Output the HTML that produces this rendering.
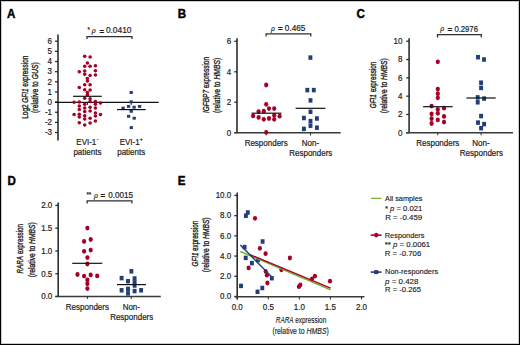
<!DOCTYPE html>
<html><head><meta charset="utf-8"><style>
html,body{margin:0;padding:0;background:#fff;}
#f{position:absolute;left:0;top:0;width:520px;height:345px;overflow:hidden;background:#fff;}
svg{position:absolute;left:0;top:0;font-family:"Liberation Sans", sans-serif;}
text{stroke:#1a1a1a;stroke-width:0.2px;}
text.b{stroke:#000;stroke-width:0.45px;}
text.r{stroke-width:0.35px;}
text.eq{stroke-width:0.45px;}
text.l{stroke-width:0.14px;}
text.x{stroke-width:0.15px;}
</style></head><body><div id="f">
<svg width="520" height="345" viewBox="0 0 520 345">
<rect x="0.5" y="0.5" width="519" height="344" fill="#fff" stroke="#000" stroke-width="1"/>
<rect x="1.5" y="1.5" width="517" height="342" fill="none" stroke="#000" stroke-opacity="0.2" stroke-width="1"/>
<text transform="translate(7.1,17.8) scale(0.9259,1)" font-size="12.53" font-weight="bold" fill="#000" class="b">A</text>
<line x1="58" y1="34.4" x2="58" y2="140.5" stroke="#2e2e2e" stroke-width="1.6"/>
<line x1="55" y1="132.55" x2="58" y2="132.55" stroke="#2e2e2e" stroke-width="1.3"/>
<text transform="translate(52,135.35) scale(0.8929,1)" font-size="8.96" text-anchor="end" fill="#1a1a1a">-3</text>
<line x1="55" y1="122.4" x2="58" y2="122.4" stroke="#2e2e2e" stroke-width="1.3"/>
<text transform="translate(52,125.2) scale(0.8929,1)" font-size="8.96" text-anchor="end" fill="#1a1a1a">-2</text>
<line x1="55" y1="112.25" x2="58" y2="112.25" stroke="#2e2e2e" stroke-width="1.3"/>
<text transform="translate(52,115.05) scale(0.8929,1)" font-size="8.96" text-anchor="end" fill="#1a1a1a">-1</text>
<line x1="55" y1="102.1" x2="58" y2="102.1" stroke="#2e2e2e" stroke-width="1.3"/>
<text transform="translate(52,104.9) scale(0.8929,1)" font-size="8.96" text-anchor="end" fill="#1a1a1a">0</text>
<line x1="55" y1="91.95" x2="58" y2="91.95" stroke="#2e2e2e" stroke-width="1.3"/>
<text transform="translate(52,94.75) scale(0.8929,1)" font-size="8.96" text-anchor="end" fill="#1a1a1a">1</text>
<line x1="55" y1="81.8" x2="58" y2="81.8" stroke="#2e2e2e" stroke-width="1.3"/>
<text transform="translate(52,84.6) scale(0.8929,1)" font-size="8.96" text-anchor="end" fill="#1a1a1a">2</text>
<line x1="55" y1="71.65" x2="58" y2="71.65" stroke="#2e2e2e" stroke-width="1.3"/>
<text transform="translate(52,74.45) scale(0.8929,1)" font-size="8.96" text-anchor="end" fill="#1a1a1a">3</text>
<line x1="55" y1="61.5" x2="58" y2="61.5" stroke="#2e2e2e" stroke-width="1.3"/>
<text transform="translate(52,64.3) scale(0.8929,1)" font-size="8.96" text-anchor="end" fill="#1a1a1a">4</text>
<line x1="55" y1="51.35" x2="58" y2="51.35" stroke="#2e2e2e" stroke-width="1.3"/>
<text transform="translate(52,54.15) scale(0.8929,1)" font-size="8.96" text-anchor="end" fill="#1a1a1a">5</text>
<line x1="55" y1="41.2" x2="58" y2="41.2" stroke="#2e2e2e" stroke-width="1.3"/>
<text transform="translate(52,44.0) scale(0.8929,1)" font-size="8.96" text-anchor="end" fill="#1a1a1a">6</text>
<line x1="55" y1="102.3" x2="158.7" y2="102.3" stroke="#111" stroke-width="1.2"/>
<line x1="87.4" y1="102.3" x2="87.4" y2="104.9" stroke="#111" stroke-width="1"/>
<line x1="131.2" y1="102.3" x2="131.2" y2="104.9" stroke="#111" stroke-width="1"/>
<ellipse cx="74.1" cy="102.3" rx="1.8" ry="1.75" fill="#a60024"/>
<ellipse cx="74.1" cy="114.6" rx="1.8" ry="1.75" fill="#a60024"/>
<ellipse cx="79.3" cy="71.8" rx="1.8" ry="1.75" fill="#a60024"/>
<ellipse cx="79.3" cy="87.6" rx="1.8" ry="1.75" fill="#a60024"/>
<ellipse cx="79.3" cy="102.1" rx="1.8" ry="1.75" fill="#a60024"/>
<ellipse cx="79.3" cy="106.1" rx="1.8" ry="1.75" fill="#a60024"/>
<ellipse cx="79.3" cy="109.6" rx="1.8" ry="1.75" fill="#a60024"/>
<ellipse cx="79.3" cy="114.3" rx="1.8" ry="1.75" fill="#a60024"/>
<ellipse cx="79.3" cy="117.0" rx="1.8" ry="1.75" fill="#a60024"/>
<ellipse cx="79.3" cy="122.8" rx="1.8" ry="1.75" fill="#a60024"/>
<ellipse cx="84.7" cy="56.3" rx="1.8" ry="1.75" fill="#a60024"/>
<ellipse cx="84.7" cy="66.2" rx="1.8" ry="1.75" fill="#a60024"/>
<ellipse cx="84.7" cy="71.1" rx="1.8" ry="1.75" fill="#a60024"/>
<ellipse cx="84.7" cy="74.3" rx="1.8" ry="1.75" fill="#a60024"/>
<ellipse cx="84.7" cy="84.7" rx="1.8" ry="1.75" fill="#a60024"/>
<ellipse cx="84.7" cy="89.7" rx="1.8" ry="1.75" fill="#a60024"/>
<ellipse cx="84.7" cy="98.3" rx="1.8" ry="1.75" fill="#a60024"/>
<ellipse cx="84.7" cy="104.3" rx="1.8" ry="1.75" fill="#a60024"/>
<ellipse cx="84.7" cy="108.0" rx="1.8" ry="1.75" fill="#a60024"/>
<ellipse cx="84.7" cy="111.5" rx="1.8" ry="1.75" fill="#a60024"/>
<ellipse cx="84.7" cy="115.7" rx="1.8" ry="1.75" fill="#a60024"/>
<ellipse cx="84.7" cy="119.0" rx="1.8" ry="1.75" fill="#a60024"/>
<ellipse cx="84.7" cy="125.1" rx="1.8" ry="1.75" fill="#a60024"/>
<ellipse cx="87.4" cy="63.0" rx="1.8" ry="1.75" fill="#a60024"/>
<ellipse cx="87.4" cy="78.4" rx="1.8" ry="1.75" fill="#a60024"/>
<ellipse cx="87.4" cy="81.0" rx="1.8" ry="1.75" fill="#a60024"/>
<ellipse cx="87.4" cy="92.4" rx="1.8" ry="1.75" fill="#a60024"/>
<ellipse cx="87.4" cy="94.7" rx="1.8" ry="1.75" fill="#a60024"/>
<ellipse cx="90.1" cy="56.9" rx="1.8" ry="1.75" fill="#a60024"/>
<ellipse cx="90.1" cy="66.2" rx="1.8" ry="1.75" fill="#a60024"/>
<ellipse cx="90.1" cy="75.4" rx="1.8" ry="1.75" fill="#a60024"/>
<ellipse cx="90.1" cy="84.7" rx="1.8" ry="1.75" fill="#a60024"/>
<ellipse cx="90.1" cy="89.9" rx="1.8" ry="1.75" fill="#a60024"/>
<ellipse cx="90.1" cy="98.8" rx="1.8" ry="1.75" fill="#a60024"/>
<ellipse cx="90.1" cy="101.5" rx="1.8" ry="1.75" fill="#a60024"/>
<ellipse cx="90.1" cy="107.3" rx="1.8" ry="1.75" fill="#a60024"/>
<ellipse cx="90.1" cy="111.1" rx="1.8" ry="1.75" fill="#a60024"/>
<ellipse cx="90.1" cy="118.2" rx="1.8" ry="1.75" fill="#a60024"/>
<ellipse cx="90.1" cy="123.1" rx="1.8" ry="1.75" fill="#a60024"/>
<ellipse cx="95.4" cy="65.7" rx="1.8" ry="1.75" fill="#a60024"/>
<ellipse cx="95.4" cy="70.8" rx="1.8" ry="1.75" fill="#a60024"/>
<ellipse cx="95.4" cy="74.9" rx="1.8" ry="1.75" fill="#a60024"/>
<ellipse cx="95.4" cy="101.5" rx="1.8" ry="1.75" fill="#a60024"/>
<ellipse cx="95.4" cy="104.3" rx="1.8" ry="1.75" fill="#a60024"/>
<ellipse cx="95.4" cy="108.0" rx="1.8" ry="1.75" fill="#a60024"/>
<ellipse cx="95.4" cy="112.9" rx="1.8" ry="1.75" fill="#a60024"/>
<ellipse cx="95.4" cy="116.0" rx="1.8" ry="1.75" fill="#a60024"/>
<ellipse cx="95.4" cy="121.0" rx="1.8" ry="1.75" fill="#a60024"/>
<ellipse cx="100.5" cy="103.1" rx="1.8" ry="1.75" fill="#a60024"/>
<ellipse cx="100.5" cy="114.4" rx="1.8" ry="1.75" fill="#a60024"/>
<line x1="73" y1="96.3" x2="101.8" y2="96.3" stroke="#111" stroke-width="1.2"/>
<rect x="129.55" y="91.05" width="3.3" height="2.9" fill="#213e7a"/>
<rect x="129.55" y="100.35" width="3.3" height="2.9" fill="#213e7a"/>
<rect x="121.45" y="106.65" width="3.3" height="2.9" fill="#213e7a"/>
<rect x="126.95" y="104.95" width="3.3" height="2.9" fill="#213e7a"/>
<rect x="132.45" y="105.75" width="3.3" height="2.9" fill="#213e7a"/>
<rect x="137.95" y="104.95" width="3.3" height="2.9" fill="#213e7a"/>
<rect x="129.55" y="109.85" width="3.3" height="2.9" fill="#213e7a"/>
<rect x="126.95" y="114.85" width="3.3" height="2.9" fill="#213e7a"/>
<rect x="132.55" y="116.75" width="3.3" height="2.9" fill="#213e7a"/>
<rect x="129.65" y="126.15" width="3.3" height="2.9" fill="#213e7a"/>
<line x1="117" y1="109.6" x2="145.7" y2="109.6" stroke="#111" stroke-width="1.2"/>
<text transform="translate(87.6,31.9) scale(0.8929,1)" font-size="6.94" fill="#1a1a1a">*</text>
<text transform="translate(91.7,33.1) scale(0.8929,1)" font-size="7.62" fill="#1a1a1a"><tspan font-style="italic">&#961;</tspan></text>
<text transform="translate(99.5,33.6) scale(0.8929,1)" font-size="8.96" fill="#1a1a1a" class="eq">=</text>
<text transform="translate(105.9,33.3) scale(0.8929,1)" font-size="8.96" textLength="28.56" lengthAdjust="spacingAndGlyphs" fill="#1a1a1a">0.0410</text>
<path d="M87 39V36.5H132V39" fill="none" stroke="#2e2e2e" stroke-width="1.25"/>
<text class="r" transform="translate(27.7,118.7) rotate(-90)" font-size="9.6" textLength="63.0" lengthAdjust="spacingAndGlyphs" fill="#1a1a1a">Log2 <tspan font-style="italic">GFI1</tspan> expression</text>
<text class="r" transform="translate(38.0,112.9) rotate(-90)" font-size="9.6" textLength="50.7" lengthAdjust="spacingAndGlyphs" fill="#1a1a1a">(relative to <tspan font-style="italic">GUS</tspan>)</text>
<text transform="translate(87.4,144.5) scale(0.8929,1)" font-size="8.96" text-anchor="middle" fill="#1a1a1a">EVI-1<tspan font-size="5" dx="0.8" dy="-3.5">-</tspan></text>
<text transform="translate(87.4,154.7) scale(0.8929,1)" font-size="8.96" text-anchor="middle" fill="#1a1a1a">patients</text>
<text transform="translate(131.2,144.5) scale(0.8929,1)" font-size="8.96" text-anchor="middle" fill="#1a1a1a">EVI-1<tspan font-size="5" dx="0.5" dy="-3.2">+</tspan></text>
<text transform="translate(131.2,154.7) scale(0.8929,1)" font-size="8.96" text-anchor="middle" fill="#1a1a1a">patients</text>
<text transform="translate(177.8,17.7) scale(0.9259,1)" font-size="12.53" font-weight="bold" fill="#000" class="b">B</text>
<line x1="237" y1="38.3" x2="237" y2="132.7" stroke="#2e2e2e" stroke-width="1.6"/>
<line x1="234.3" y1="132.7" x2="237" y2="132.7" stroke="#2e2e2e" stroke-width="1.3"/>
<text transform="translate(231.2,135.5) scale(0.8929,1)" font-size="8.96" text-anchor="end" fill="#1a1a1a">0</text>
<line x1="234.3" y1="102.24" x2="237" y2="102.24" stroke="#2e2e2e" stroke-width="1.3"/>
<text transform="translate(231.2,105.04) scale(0.8929,1)" font-size="8.96" text-anchor="end" fill="#1a1a1a">2</text>
<line x1="234.3" y1="71.78" x2="237" y2="71.78" stroke="#2e2e2e" stroke-width="1.3"/>
<text transform="translate(231.2,74.58) scale(0.8929,1)" font-size="8.96" text-anchor="end" fill="#1a1a1a">4</text>
<line x1="234.3" y1="41.32" x2="237" y2="41.32" stroke="#2e2e2e" stroke-width="1.3"/>
<text transform="translate(231.2,44.12) scale(0.8929,1)" font-size="8.96" text-anchor="end" fill="#1a1a1a">6</text>
<line x1="234.3" y1="132.7" x2="340.7" y2="132.7" stroke="#3a3a3a" stroke-width="1.5"/>
<line x1="266.2" y1="132.7" x2="266.2" y2="135.4" stroke="#2e2e2e" stroke-width="1"/>
<line x1="310.5" y1="132.7" x2="310.5" y2="135.4" stroke="#2e2e2e" stroke-width="1"/>
<ellipse cx="266.2" cy="85.0" rx="2.1" ry="2.42" fill="#a60024"/>
<ellipse cx="266.2" cy="104.3" rx="2.1" ry="2.42" fill="#a60024"/>
<ellipse cx="269" cy="108.6" rx="2.1" ry="2.42" fill="#a60024"/>
<ellipse cx="274.2" cy="108.6" rx="2.1" ry="2.42" fill="#a60024"/>
<ellipse cx="258.6" cy="111.6" rx="2.1" ry="2.42" fill="#a60024"/>
<ellipse cx="263.8" cy="111.2" rx="2.1" ry="2.42" fill="#a60024"/>
<ellipse cx="253.1" cy="115.9" rx="2.1" ry="2.42" fill="#a60024"/>
<ellipse cx="258.6" cy="117.4" rx="2.1" ry="2.42" fill="#a60024"/>
<ellipse cx="263.8" cy="119.3" rx="2.1" ry="2.42" fill="#a60024"/>
<ellipse cx="269" cy="118.5" rx="2.1" ry="2.42" fill="#a60024"/>
<ellipse cx="274.2" cy="115.3" rx="2.1" ry="2.42" fill="#a60024"/>
<ellipse cx="274.2" cy="119.3" rx="2.1" ry="2.42" fill="#a60024"/>
<ellipse cx="279.6" cy="116.2" rx="2.1" ry="2.42" fill="#a60024"/>
<ellipse cx="266.2" cy="132.3" rx="2.1" ry="2.42" fill="#a60024"/>
<line x1="251.6" y1="113.2" x2="281.5" y2="113.2" stroke="#111" stroke-width="1.2"/>
<rect x="308.45" y="55.36" width="3.9" height="4.48" fill="#213e7a"/>
<rect x="305.35" y="87.86" width="3.9" height="4.48" fill="#213e7a"/>
<rect x="311.85" y="87.86" width="3.9" height="4.48" fill="#213e7a"/>
<rect x="308.55" y="98.16" width="3.9" height="4.48" fill="#213e7a"/>
<rect x="308.55" y="109.56" width="3.9" height="4.48" fill="#213e7a"/>
<rect x="301.95" y="115.76" width="3.9" height="4.48" fill="#213e7a"/>
<rect x="314.95" y="116.26" width="3.9" height="4.48" fill="#213e7a"/>
<rect x="308.55" y="118.86" width="3.9" height="4.48" fill="#213e7a"/>
<rect x="308.55" y="123.46" width="3.9" height="4.48" fill="#213e7a"/>
<rect x="301.95" y="126.66" width="3.9" height="4.48" fill="#213e7a"/>
<rect x="314.95" y="125.46" width="3.9" height="4.48" fill="#213e7a"/>
<line x1="295.6" y1="108.3" x2="325.4" y2="108.3" stroke="#111" stroke-width="1.2"/>
<text transform="translate(270.9,30.5) scale(0.8929,1)" font-size="7.62" fill="#1a1a1a"><tspan font-style="italic">&#961;</tspan></text>
<text transform="translate(278.1,31.0) scale(0.8929,1)" font-size="8.96" fill="#1a1a1a" class="eq">=</text>
<text transform="translate(284.8,30.7) scale(0.8929,1)" font-size="8.96" textLength="23.07" lengthAdjust="spacingAndGlyphs" fill="#1a1a1a">0.465</text>
<path d="M266.1 36.4V33.8H310.8V36.4" fill="none" stroke="#2e2e2e" stroke-width="1.25"/>
<text class="r" transform="translate(208.7,113) rotate(-90)" font-size="9.6" textLength="56" lengthAdjust="spacingAndGlyphs" fill="#1a1a1a"><tspan font-style="italic">IGFBP7</tspan> expression</text>
<text class="r" transform="translate(219.5,113) rotate(-90)" font-size="9.6" textLength="55.2" lengthAdjust="spacingAndGlyphs" fill="#1a1a1a">(relative to <tspan font-style="italic">HMBS</tspan>)</text>
<text transform="translate(266.2,145.8) scale(0.8929,1)" font-size="8.96" text-anchor="middle" fill="#1a1a1a">Responders</text>
<text transform="translate(310.5,145.8) scale(0.8929,1)" font-size="8.96" text-anchor="middle" fill="#1a1a1a">Non-</text>
<text transform="translate(310.8,156) scale(0.8929,1)" font-size="8.96" text-anchor="middle" fill="#1a1a1a">Responders</text>
<text transform="translate(356.4,17.7) scale(0.9259,1)" font-size="12.53" font-weight="bold" fill="#000" class="b">C</text>
<line x1="409.1" y1="38.3" x2="409.1" y2="132.8" stroke="#2e2e2e" stroke-width="1.6"/>
<line x1="406.2" y1="132.8" x2="409.1" y2="132.8" stroke="#2e2e2e" stroke-width="1.3"/>
<text transform="translate(402.4,135.6) scale(0.8929,1)" font-size="8.96" text-anchor="end" fill="#1a1a1a">0</text>
<line x1="406.2" y1="114.48" x2="409.1" y2="114.48" stroke="#2e2e2e" stroke-width="1.3"/>
<text transform="translate(402.4,117.28) scale(0.8929,1)" font-size="8.96" text-anchor="end" fill="#1a1a1a">2</text>
<line x1="406.2" y1="96.16" x2="409.1" y2="96.16" stroke="#2e2e2e" stroke-width="1.3"/>
<text transform="translate(402.4,98.96) scale(0.8929,1)" font-size="8.96" text-anchor="end" fill="#1a1a1a">4</text>
<line x1="406.2" y1="77.84" x2="409.1" y2="77.84" stroke="#2e2e2e" stroke-width="1.3"/>
<text transform="translate(402.4,80.64) scale(0.8929,1)" font-size="8.96" text-anchor="end" fill="#1a1a1a">6</text>
<line x1="406.2" y1="59.52" x2="409.1" y2="59.52" stroke="#2e2e2e" stroke-width="1.3"/>
<text transform="translate(402.4,62.32) scale(0.8929,1)" font-size="8.96" text-anchor="end" fill="#1a1a1a">8</text>
<line x1="406.2" y1="41.2" x2="409.1" y2="41.2" stroke="#2e2e2e" stroke-width="1.3"/>
<text transform="translate(402.4,44.0) scale(0.8929,1)" font-size="8.96" text-anchor="end" fill="#1a1a1a">10</text>
<line x1="406.2" y1="132.8" x2="513" y2="132.8" stroke="#3a3a3a" stroke-width="1.5"/>
<line x1="437.8" y1="132.8" x2="437.8" y2="135.3" stroke="#2e2e2e" stroke-width="1"/>
<line x1="481.1" y1="132.8" x2="481.1" y2="135.3" stroke="#2e2e2e" stroke-width="1"/>
<ellipse cx="437.8" cy="61.8" rx="2.1" ry="2.42" fill="#a60024"/>
<ellipse cx="437.8" cy="89.1" rx="2.1" ry="2.42" fill="#a60024"/>
<ellipse cx="437.8" cy="93.7" rx="2.1" ry="2.42" fill="#a60024"/>
<ellipse cx="437.8" cy="97.8" rx="2.1" ry="2.42" fill="#a60024"/>
<ellipse cx="431.6" cy="106.1" rx="2.1" ry="2.42" fill="#a60024"/>
<ellipse cx="444" cy="108.2" rx="2.1" ry="2.42" fill="#a60024"/>
<ellipse cx="437.8" cy="109.4" rx="2.1" ry="2.42" fill="#a60024"/>
<ellipse cx="437.8" cy="113.3" rx="2.1" ry="2.42" fill="#a60024"/>
<ellipse cx="431.6" cy="114" rx="2.1" ry="2.42" fill="#a60024"/>
<ellipse cx="444" cy="116.4" rx="2.1" ry="2.42" fill="#a60024"/>
<ellipse cx="431.6" cy="118.7" rx="2.1" ry="2.42" fill="#a60024"/>
<ellipse cx="437.8" cy="119.9" rx="2.1" ry="2.42" fill="#a60024"/>
<ellipse cx="444" cy="122.1" rx="2.1" ry="2.42" fill="#a60024"/>
<ellipse cx="431.6" cy="123.5" rx="2.1" ry="2.42" fill="#a60024"/>
<line x1="423.1" y1="106.7" x2="452.7" y2="106.7" stroke="#111" stroke-width="1.2"/>
<rect x="476.05" y="54.96" width="3.9" height="4.48" fill="#213e7a"/>
<rect x="482.05" y="57.26" width="3.9" height="4.48" fill="#213e7a"/>
<rect x="479.15" y="80.46" width="3.9" height="4.48" fill="#213e7a"/>
<rect x="479.15" y="85.66" width="3.9" height="4.48" fill="#213e7a"/>
<rect x="475.75" y="95.16" width="3.9" height="4.48" fill="#213e7a"/>
<rect x="475.75" y="100.06" width="3.9" height="4.48" fill="#213e7a"/>
<rect x="482.15" y="96.36" width="3.9" height="4.48" fill="#213e7a"/>
<rect x="479.15" y="113.86" width="3.9" height="4.48" fill="#213e7a"/>
<rect x="476.05" y="120.36" width="3.9" height="4.48" fill="#213e7a"/>
<rect x="482.15" y="121.86" width="3.9" height="4.48" fill="#213e7a"/>
<rect x="479.15" y="125.96" width="3.9" height="4.48" fill="#213e7a"/>
<line x1="466.4" y1="98" x2="495.7" y2="98" stroke="#111" stroke-width="1.2"/>
<text transform="translate(440.2,31.4) scale(0.8929,1)" font-size="7.62" fill="#1a1a1a"><tspan font-style="italic">&#961;</tspan></text>
<text transform="translate(447.4,31.9) scale(0.8929,1)" font-size="8.96" fill="#1a1a1a" class="eq">=</text>
<text transform="translate(454.4,31.6) scale(0.8929,1)" font-size="8.96" textLength="26.32" lengthAdjust="spacingAndGlyphs" fill="#1a1a1a">0.2976</text>
<path d="M437.5 37.5V34.7H481.3V37.5" fill="none" stroke="#2e2e2e" stroke-width="1.25"/>
<text class="r" transform="translate(375.7,108.2) rotate(-90)" font-size="9.6" textLength="46.5" lengthAdjust="spacingAndGlyphs" fill="#1a1a1a"><tspan font-style="italic">GFI1</tspan> expression</text>
<text class="r" transform="translate(387.3,113.2) rotate(-90)" font-size="9.6" textLength="54.9" lengthAdjust="spacingAndGlyphs" fill="#1a1a1a">(relative to <tspan font-style="italic">HMBS</tspan>)</text>
<text transform="translate(437.8,146.2) scale(0.8929,1)" font-size="8.96" text-anchor="middle" fill="#1a1a1a">Responders</text>
<text transform="translate(481,146.2) scale(0.8929,1)" font-size="8.96" text-anchor="middle" fill="#1a1a1a">Non-</text>
<text transform="translate(481.4,155.7) scale(0.8929,1)" font-size="8.96" text-anchor="middle" fill="#1a1a1a">Responders</text>
<text transform="translate(7.4,184.8) scale(0.9259,1)" font-size="12.53" font-weight="bold" fill="#000" class="b">D</text>
<line x1="58.2" y1="202.5" x2="58.2" y2="296.5" stroke="#2e2e2e" stroke-width="1.6"/>
<line x1="55.3" y1="296.5" x2="58.2" y2="296.5" stroke="#2e2e2e" stroke-width="1.3"/>
<text transform="translate(52.3,299.3) scale(0.8929,1)" font-size="8.96" text-anchor="end" fill="#1a1a1a">0.0</text>
<line x1="55.3" y1="273.73" x2="58.2" y2="273.73" stroke="#2e2e2e" stroke-width="1.3"/>
<text transform="translate(52.3,276.53) scale(0.8929,1)" font-size="8.96" text-anchor="end" fill="#1a1a1a">0.5</text>
<line x1="55.3" y1="250.95" x2="58.2" y2="250.95" stroke="#2e2e2e" stroke-width="1.3"/>
<text transform="translate(52.3,253.75) scale(0.8929,1)" font-size="8.96" text-anchor="end" fill="#1a1a1a">1.0</text>
<line x1="55.3" y1="228.18" x2="58.2" y2="228.18" stroke="#2e2e2e" stroke-width="1.3"/>
<text transform="translate(52.3,230.98) scale(0.8929,1)" font-size="8.96" text-anchor="end" fill="#1a1a1a">1.5</text>
<line x1="55.3" y1="205.4" x2="58.2" y2="205.4" stroke="#2e2e2e" stroke-width="1.3"/>
<text transform="translate(52.3,208.2) scale(0.8929,1)" font-size="8.96" text-anchor="end" fill="#1a1a1a">2.0</text>
<line x1="55.3" y1="296.5" x2="160.8" y2="296.5" stroke="#3a3a3a" stroke-width="1.5"/>
<line x1="87.4" y1="296.5" x2="87.4" y2="299" stroke="#2e2e2e" stroke-width="1"/>
<line x1="131.2" y1="296.5" x2="131.2" y2="299" stroke="#2e2e2e" stroke-width="1"/>
<ellipse cx="87.4" cy="228.1" rx="2.1" ry="2.42" fill="#a60024"/>
<ellipse cx="90.7" cy="239.5" rx="2.1" ry="2.42" fill="#a60024"/>
<ellipse cx="84.1" cy="241.4" rx="2.1" ry="2.42" fill="#a60024"/>
<ellipse cx="90.7" cy="250.1" rx="2.1" ry="2.42" fill="#a60024"/>
<ellipse cx="84.1" cy="251.3" rx="2.1" ry="2.42" fill="#a60024"/>
<ellipse cx="87.4" cy="257.6" rx="2.1" ry="2.42" fill="#a60024"/>
<ellipse cx="87.4" cy="264" rx="2.1" ry="2.42" fill="#a60024"/>
<ellipse cx="77.5" cy="274.5" rx="2.1" ry="2.42" fill="#a60024"/>
<ellipse cx="84.1" cy="276.1" rx="2.1" ry="2.42" fill="#a60024"/>
<ellipse cx="90.7" cy="274.9" rx="2.1" ry="2.42" fill="#a60024"/>
<ellipse cx="97.2" cy="275.9" rx="2.1" ry="2.42" fill="#a60024"/>
<ellipse cx="87.4" cy="279.9" rx="2.1" ry="2.42" fill="#a60024"/>
<ellipse cx="87.4" cy="283.8" rx="2.1" ry="2.42" fill="#a60024"/>
<ellipse cx="87.4" cy="288.6" rx="2.1" ry="2.42" fill="#a60024"/>
<line x1="72.2" y1="263.3" x2="102.3" y2="263.3" stroke="#111" stroke-width="1.2"/>
<rect x="129.45" y="269.06" width="3.9" height="4.48" fill="#213e7a"/>
<rect x="119.65" y="275.86" width="3.9" height="4.48" fill="#213e7a"/>
<rect x="126.05" y="278.96" width="3.9" height="4.48" fill="#213e7a"/>
<rect x="132.65" y="276.26" width="3.9" height="4.48" fill="#213e7a"/>
<rect x="132.65" y="280.26" width="3.9" height="4.48" fill="#213e7a"/>
<rect x="132.65" y="283.26" width="3.9" height="4.48" fill="#213e7a"/>
<rect x="119.65" y="288.06" width="3.9" height="4.48" fill="#213e7a"/>
<rect x="126.05" y="286.66" width="3.9" height="4.48" fill="#213e7a"/>
<rect x="126.05" y="291.16" width="3.9" height="4.48" fill="#213e7a"/>
<rect x="132.65" y="288.86" width="3.9" height="4.48" fill="#213e7a"/>
<rect x="139.15" y="288.06" width="3.9" height="4.48" fill="#213e7a"/>
<line x1="117" y1="284.6" x2="146" y2="284.6" stroke="#111" stroke-width="1.2"/>
<text transform="translate(86.4,196.5) scale(0.8929,1)" font-size="6.94" fill="#1a1a1a">**</text>
<text transform="translate(93.9,197.7) scale(0.8929,1)" font-size="7.62" fill="#1a1a1a"><tspan font-style="italic">&#961;</tspan></text>
<text transform="translate(100.5,198.2) scale(0.8929,1)" font-size="8.96" fill="#1a1a1a" class="eq">=</text>
<text transform="translate(108.2,197.9) scale(0.8929,1)" font-size="8.96" textLength="27.66" lengthAdjust="spacingAndGlyphs" fill="#1a1a1a">0.0015</text>
<path d="M87.2 203.5V200.8H131.9V203.5" fill="none" stroke="#2e2e2e" stroke-width="1.25"/>
<text class="r" transform="translate(23.2,273.5) rotate(-90)" font-size="9.6" textLength="49.6" lengthAdjust="spacingAndGlyphs" fill="#1a1a1a"><tspan font-style="italic">RARA</tspan> expression</text>
<text class="r" transform="translate(34.9,277.2) rotate(-90)" font-size="9.6" textLength="55.0" lengthAdjust="spacingAndGlyphs" fill="#1a1a1a">(relative to <tspan font-style="italic">HMBS</tspan>)</text>
<text transform="translate(87.4,310.1) scale(0.8929,1)" font-size="8.96" text-anchor="middle" fill="#1a1a1a">Responders</text>
<text transform="translate(131.3,310.1) scale(0.8929,1)" font-size="8.96" text-anchor="middle" fill="#1a1a1a">Non-</text>
<text transform="translate(131.7,319.6) scale(0.8929,1)" font-size="8.96" text-anchor="middle" fill="#1a1a1a">Responders</text>
<text transform="translate(177.8,184.8) scale(0.9259,1)" font-size="12.53" font-weight="bold" fill="#000" class="b">E</text>
<line x1="237.2" y1="192.5" x2="237.2" y2="299.5" stroke="#2e2e2e" stroke-width="1.6"/>
<line x1="234.3" y1="296.5" x2="237.2" y2="296.5" stroke="#2e2e2e" stroke-width="1.3"/>
<text transform="translate(231.2,299.3) scale(0.8929,1)" font-size="8.96" text-anchor="end" fill="#1a1a1a">0.0</text>
<line x1="234.3" y1="276.28" x2="237.2" y2="276.28" stroke="#2e2e2e" stroke-width="1.3"/>
<text transform="translate(231.2,279.08) scale(0.8929,1)" font-size="8.96" text-anchor="end" fill="#1a1a1a">2.0</text>
<line x1="234.3" y1="256.06" x2="237.2" y2="256.06" stroke="#2e2e2e" stroke-width="1.3"/>
<text transform="translate(231.2,258.86) scale(0.8929,1)" font-size="8.96" text-anchor="end" fill="#1a1a1a">4.0</text>
<line x1="234.3" y1="235.84" x2="237.2" y2="235.84" stroke="#2e2e2e" stroke-width="1.3"/>
<text transform="translate(231.2,238.64) scale(0.8929,1)" font-size="8.96" text-anchor="end" fill="#1a1a1a">6.0</text>
<line x1="234.3" y1="215.62" x2="237.2" y2="215.62" stroke="#2e2e2e" stroke-width="1.3"/>
<text transform="translate(231.2,218.42) scale(0.8929,1)" font-size="8.96" text-anchor="end" fill="#1a1a1a">8.0</text>
<line x1="234.3" y1="195.4" x2="237.2" y2="195.4" stroke="#2e2e2e" stroke-width="1.3"/>
<text transform="translate(231.2,198.2) scale(0.8929,1)" font-size="8.96" text-anchor="end" fill="#1a1a1a">10.0</text>
<line x1="234.6" y1="296.8" x2="364.4" y2="296.8" stroke="#3a3a3a" stroke-width="1.5"/>
<line x1="237.2" y1="296.8" x2="237.2" y2="299.5" stroke="#2e2e2e" stroke-width="1"/>
<text transform="translate(237.2,310.2) scale(0.8929,1)" font-size="8.96" text-anchor="middle" fill="#1a1a1a">0.0</text>
<line x1="268.27" y1="296.8" x2="268.27" y2="299.5" stroke="#2e2e2e" stroke-width="1"/>
<text transform="translate(268.27,310.2) scale(0.8929,1)" font-size="8.96" text-anchor="middle" fill="#1a1a1a">0.5</text>
<line x1="299.35" y1="296.8" x2="299.35" y2="299.5" stroke="#2e2e2e" stroke-width="1"/>
<text transform="translate(299.35,310.2) scale(0.8929,1)" font-size="8.96" text-anchor="middle" fill="#1a1a1a">1.0</text>
<line x1="330.42" y1="296.8" x2="330.42" y2="299.5" stroke="#2e2e2e" stroke-width="1"/>
<text transform="translate(330.42,310.2) scale(0.8929,1)" font-size="8.96" text-anchor="middle" fill="#1a1a1a">1.5</text>
<line x1="361.5" y1="296.8" x2="361.5" y2="299.5" stroke="#2e2e2e" stroke-width="1"/>
<text transform="translate(361.5,310.2) scale(0.8929,1)" font-size="8.96" text-anchor="middle" fill="#1a1a1a">2.0</text>
<ellipse cx="255" cy="218.3" rx="2.1" ry="2.42" fill="#a60024"/>
<ellipse cx="259.9" cy="248.3" rx="2.1" ry="2.42" fill="#a60024"/>
<ellipse cx="265.6" cy="253.6" rx="2.1" ry="2.42" fill="#a60024"/>
<ellipse cx="289.9" cy="258" rx="2.1" ry="2.42" fill="#a60024"/>
<ellipse cx="248.6" cy="267.9" rx="2.1" ry="2.42" fill="#a60024"/>
<ellipse cx="281.4" cy="269.8" rx="2.1" ry="2.42" fill="#a60024"/>
<ellipse cx="265.7" cy="271.4" rx="2.1" ry="2.42" fill="#a60024"/>
<ellipse cx="266.9" cy="275.2" rx="2.1" ry="2.42" fill="#a60024"/>
<ellipse cx="267.4" cy="283" rx="2.1" ry="2.42" fill="#a60024"/>
<ellipse cx="312" cy="279" rx="2.1" ry="2.42" fill="#a60024"/>
<ellipse cx="314.9" cy="276.2" rx="2.1" ry="2.42" fill="#a60024"/>
<ellipse cx="300.3" cy="284.9" rx="2.1" ry="2.42" fill="#a60024"/>
<ellipse cx="298.9" cy="286.7" rx="2.1" ry="2.42" fill="#a60024"/>
<ellipse cx="330" cy="281.2" rx="2.1" ry="2.42" fill="#a60024"/>
<rect x="245.85" y="210.26" width="3.9" height="4.48" fill="#213e7a"/>
<rect x="243.95" y="213.46" width="3.9" height="4.48" fill="#213e7a"/>
<rect x="260.65" y="239.26" width="3.9" height="4.48" fill="#213e7a"/>
<rect x="242.65" y="244.86" width="3.9" height="4.48" fill="#213e7a"/>
<rect x="243.75" y="255.66" width="3.9" height="4.48" fill="#213e7a"/>
<rect x="249.95" y="260.86" width="3.9" height="4.48" fill="#213e7a"/>
<rect x="255.95" y="257.86" width="3.9" height="4.48" fill="#213e7a"/>
<rect x="269.85" y="275.96" width="3.9" height="4.48" fill="#213e7a"/>
<rect x="239.05" y="283.66" width="3.9" height="4.48" fill="#213e7a"/>
<rect x="260.35" y="285.76" width="3.9" height="4.48" fill="#213e7a"/>
<rect x="255.55" y="289.56" width="3.9" height="4.48" fill="#213e7a"/>
<line x1="240.3" y1="251.5" x2="330.5" y2="289.9" stroke="#6ab42d" stroke-width="1.4"/>
<line x1="249.3" y1="254.4" x2="330.5" y2="288.2" stroke="#a60024" stroke-width="1.4"/>
<line x1="240.3" y1="245" x2="271.8" y2="277" stroke="#213e7a" stroke-width="1.4"/>
<text class="r" transform="translate(197.9,266.4) rotate(-90)" font-size="9.6" textLength="45.5" lengthAdjust="spacingAndGlyphs" fill="#1a1a1a"><tspan font-style="italic">GFI1</tspan> expression</text>
<text class="r" transform="translate(208.9,272.2) rotate(-90)" font-size="9.6" textLength="54.8" lengthAdjust="spacingAndGlyphs" fill="#1a1a1a">(relative to <tspan font-style="italic">HMBS</tspan>)</text>
<text x="275.8" y="323.4" font-size="9.6" textLength="50.4" lengthAdjust="spacingAndGlyphs" fill="#1a1a1a" class="x"><tspan font-style="italic">RARA</tspan> expression</text>
<text x="272.4" y="334.2" font-size="9.6" textLength="56.4" lengthAdjust="spacingAndGlyphs" fill="#1a1a1a" class="x">(relative to <tspan font-style="italic">HMBS</tspan>)</text>
<line x1="371" y1="198.3" x2="381.5" y2="198.3" stroke="#6ab42d" stroke-width="1.2"/>
<text transform="translate(385,200.8) scale(0.9434,1)" font-size="7.95" textLength="39.75" lengthAdjust="spacingAndGlyphs" fill="#1a1a1a" class="l">All samples</text>
<text transform="translate(384.9,210.8) scale(0.9434,1)" font-size="7.95" textLength="39.64" lengthAdjust="spacingAndGlyphs" fill="#1a1a1a" class="l">* <tspan font-style="italic">p</tspan> = 0.021</text>
<text transform="translate(385.2,219.9) scale(0.9434,1)" font-size="7.95" textLength="39.22" lengthAdjust="spacingAndGlyphs" fill="#1a1a1a" class="l">R = -0.459</text>
<line x1="370.7" y1="235.1" x2="381.5" y2="235.1" stroke="#a60024" stroke-width="1.6"/>
<ellipse cx="376.2" cy="235.1" rx="2.1" ry="2.42" fill="#a60024"/>
<text transform="translate(384.8,237.8) scale(0.9434,1)" font-size="7.95" textLength="42.08" lengthAdjust="spacingAndGlyphs" fill="#1a1a1a" class="l">Responders</text>
<text transform="translate(384.8,247.1) scale(0.9434,1)" font-size="7.95" textLength="48.12" lengthAdjust="spacingAndGlyphs" fill="#1a1a1a" class="l">** <tspan font-style="italic">p</tspan> = 0.0061</text>
<text transform="translate(384.8,256.1) scale(0.9434,1)" font-size="7.95" textLength="38.58" lengthAdjust="spacingAndGlyphs" fill="#1a1a1a" class="l">R = -0.706</text>
<line x1="370.7" y1="272.1" x2="381.5" y2="272.1" stroke="#213e7a" stroke-width="1.6"/>
<rect x="374.2" y="270.1" width="4.0" height="4.0" fill="#213e7a"/>
<text transform="translate(385.1,274.4) scale(0.9434,1)" font-size="7.95" textLength="56.18" lengthAdjust="spacingAndGlyphs" fill="#1a1a1a" class="l">Non-responders</text>
<text transform="translate(385.1,283.5) scale(0.9434,1)" font-size="7.95" textLength="35.3" lengthAdjust="spacingAndGlyphs" fill="#1a1a1a" class="l"><tspan font-style="italic">p</tspan> = 0.428</text>
<text transform="translate(385.1,292.3) scale(0.9434,1)" font-size="7.95" textLength="38.05" lengthAdjust="spacingAndGlyphs" fill="#1a1a1a" class="l">R = -0.265</text>
</svg></div></body></html>
